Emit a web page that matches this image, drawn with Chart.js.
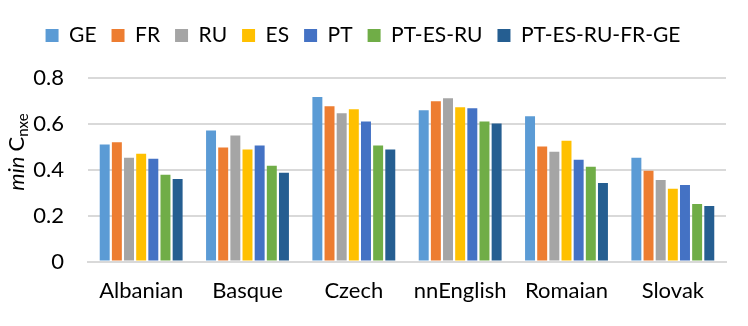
<!DOCTYPE html>
<html><head><meta charset="utf-8">
<script src="https://cdn.jsdelivr.net/npm/chart.js@4"></script>
<style>html,body{margin:0;padding:0;background:#fff}#wrap{width:748px;height:326px}</style>
</head><body><div id="wrap"><canvas id="c"></canvas></div>
<script>
const categories = ["Albanian","Basque","Czech","nnEnglish","Romaian","Slovak"];
const seriesNames = ["GE","FR","RU","ES","PT","PT-ES-RU","PT-ES-RU-FR-GE"];
const GE   = [0.51,0.571,0.717,0.659,0.633,0.453];
const FR   = [0.52,0.497,0.677,0.699,0.501,0.396];
const RU   = [0.453,0.55,0.646,0.712,0.479,0.356];
const ES   = [0.47,0.488,0.664,0.673,0.527,0.317];
const PT   = [0.448,0.506,0.611,0.668,0.444,0.334];
const PTESRU = [0.378,0.418,0.506,0.611,0.413,0.251];
const ALL  = [0.36,0.387,0.488,0.602,0.343,0.242];
const yTicks = [0,0.2,0.4,0.6,0.8];
const colors = ["#5b9bd5","#ed7d31","#a5a5a5","#ffc000","#4472c4","#70ad47","#255e91"];
const values = [GE,FR,RU,ES,PT,PTESRU,ALL];
const FONT = "Lato, 'Open Sans', sans-serif";

const legendMargin = {
  id:'legendMargin',
  beforeInit(chart){
    const orig = chart.legend.fit;
    chart.legend.fit = function(){ orig.bind(chart.legend)(); this.height += 22; };
  }
};

const yTitle = {
  id:'yTitle',
  afterDraw(chart){
    const ctx = chart.ctx;
    ctx.save();
    ctx.translate(24, 152);
    ctx.rotate(-Math.PI/2);
    ctx.fillStyle = '#000';
    ctx.textBaseline = 'alphabetic';
    const f1 = "italic 22px " + FONT, f2 = "22px " + FONT, f3 = "15px " + FONT;
    ctx.font = f1; const w1 = ctx.measureText("min ").width;
    ctx.font = f2; const w2 = ctx.measureText("C").width;
    ctx.font = f3; const w3 = ctx.measureText("nxe").width;
    let x = -(w1+w2+w3)/2;
    ctx.font = f1; ctx.fillText("min ", x, 0); x += w1;
    ctx.font = f2; ctx.fillText("C", x, 0); x += w2;
    ctx.font = f3; ctx.fillText("nxe", x, 4);
    ctx.restore();
  }
};

new Chart(document.getElementById('c'), {
  type:'bar',
  data:{ labels:categories, datasets: seriesNames.map((n,i)=>({label:n, data:values[i], backgroundColor:colors[i], barPercentage:0.82, categoryPercentage:0.8})) },
  options:{
    responsive:true, maintainAspectRatio:false, animation:false,
    layout:{padding:{left:0,right:22,top:10,bottom:6}},
    plugins:{
      legend:{position:'top', labels:{boxWidth:13, boxHeight:13, padding:15, color:'#000', font:{family:FONT,size:21}}},
      tooltip:{enabled:false}
    },
    scales:{
      x:{grid:{display:false, drawTicks:false}, border:{display:true,color:'#d9d9d9',width:2},
         ticks:{color:'#000',font:{family:FONT,size:22},padding:16}},
      y:{min:0,max:0.8, afterBuildTicks(s){s.ticks = yTicks.map(v=>({value:v}));},
         grid:{color:'#d9d9d9',lineWidth:2,drawTicks:false}, border:{display:false},
         ticks:{color:'#000',font:{family:FONT,size:22},padding:24, callback:v=>String(v)},
         afterFit(s){s.width = 88;}}
    }
  },
  plugins:[legendMargin, yTitle]
});
</script></body></html>
